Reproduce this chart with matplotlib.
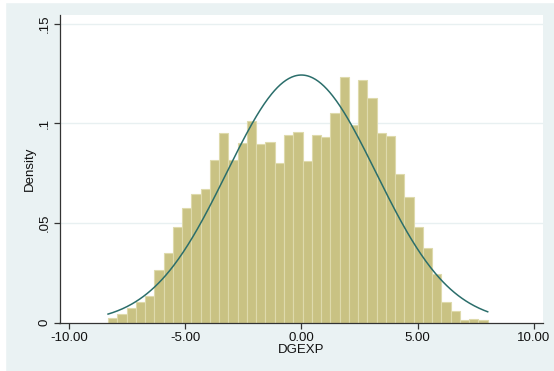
import numpy as np
import matplotlib
matplotlib.use("Agg")
import matplotlib.pyplot as plt
from matplotlib.patches import Rectangle

# Histogram: 41 bins from -8.32 to 8.02
bin_start = -8.32
bin_end = 8.02
densities = [0.0022, 0.0042, 0.0074, 0.0102, 0.0135, 0.0264, 0.0348, 0.0478, 0.0574, 0.0644,
             0.0669, 0.0816, 0.0950, 0.0816, 0.0901, 0.1012, 0.0896, 0.0906, 0.0799, 0.0940,
             0.0956, 0.0809, 0.0940, 0.0933, 0.1053, 0.1231, 0.0990, 0.1217, 0.1130, 0.0953,
             0.0936, 0.0744, 0.0632, 0.0481, 0.0375, 0.0246, 0.0104, 0.0059, 0.0015, 0.0019,
             0.0014]
normal_mean = 0.0
normal_sd = 3.21
x_ticks = [-10, -5, 0, 5, 10]
x_tick_labels = ["-10.00", "-5.00", "0.00", "5.00", "10.00"]
y_ticks = [0, 0.05, 0.1, 0.15]
y_tick_labels = ["0", ".05", ".1", ".15"]

plt.rcParams['font.family'] = ['Liberation Sans', 'DejaVu Sans']

bg = '#EAF2F3'
fig = plt.figure(figsize=(5.54, 3.71), dpi=100, facecolor=bg)
# thin white border at left/top like the reference
fig.patches.append(Rectangle((0, 0), 5/554, 1, transform=fig.transFigure, color='white', zorder=-1))
fig.patches.append(Rectangle((0, 1 - 2/371), 1, 2/371, transform=fig.transFigure, color='white', zorder=-1))

ax = fig.add_axes([59.5/554, 1 - 322.7/371, (543 - 59.5)/554, (322.7 - 15)/371])
ax.set_facecolor('white')

n = len(densities)
edges = np.linspace(bin_start, bin_end, n + 1)
width = edges[1] - edges[0]
ax.bar(edges[:-1], densities, width=width, align='edge', color='#C9C283',
       edgecolor='#DEDAAC', linewidth=0.8, zorder=2)

xs = np.linspace(bin_start, bin_end, 400)
ys = np.exp(-0.5 * ((xs - normal_mean) / normal_sd) ** 2) / (normal_sd * np.sqrt(2 * np.pi))
ax.plot(xs, ys, color='#2B6E6B', linewidth=1.1, zorder=3)

ax.set_xlim(-10.41, 10.40)
ax.set_ylim(0, 0.1544)

for yv in y_ticks[1:]:
    ax.axhline(yv, color='#E8F0F1', linewidth=1.0, zorder=1)

ax.set_xticks(x_ticks)
ax.set_xticklabels(x_tick_labels)
ax.set_yticks(y_ticks)
ax.set_yticklabels(y_tick_labels, rotation=90, va='center')

for s in ['top', 'right']:
    ax.spines[s].set_visible(False)
for s in ['left', 'bottom']:
    ax.spines[s].set_color('#333333')
    ax.spines[s].set_linewidth(0.9)

ax.tick_params(axis='both', direction='out', length=4.5, width=0.9, color='#333333',
               labelsize=9.5, labelcolor='#111111', pad=2)

ax.set_xlabel('DGEXP', fontsize=9.5, labelpad=0, color='#111111')
ax.set_ylabel('Density', fontsize=9.5, labelpad=2, color='#111111')

fig.savefig('out.png', dpi=100, facecolor=bg)
